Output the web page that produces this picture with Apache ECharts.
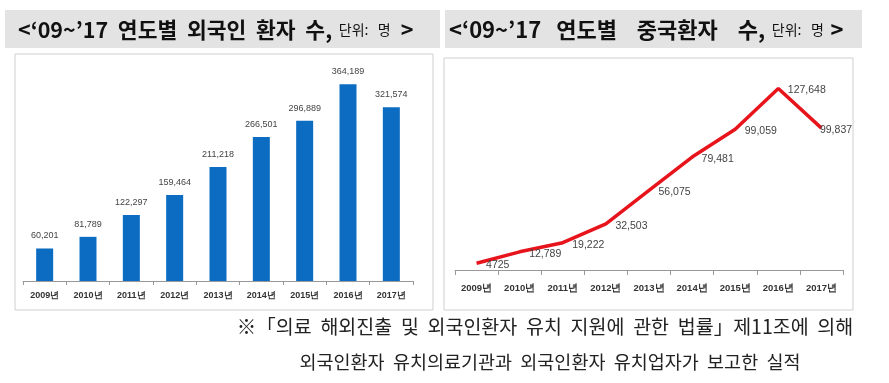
<!DOCTYPE html>
<html><head><meta charset="utf-8">
<script src="https://cdn.jsdelivr.net/npm/echarts@6/dist/echarts.min.js"></script>
<style>html,body{margin:0;padding:0;background:#fff}#c{width:889px;height:383px}</style>
</head><body><div id="c"></div>
<script>
const years = ['2009년','2010년','2011년','2012년','2013년','2014년','2015년','2016년','2017년'];
const foreignPatients = [60201, 81789, 122297, 159464, 211218, 266501, 296889, 364189, 321574];
const chinesePatients = [4725, 12789, 19222, 32503, 56075, 79481, 99059, 127648, 99837];
const leftTitle = '<‘09~’17  연도별  외국인  환자  수,';
const rightTitle = '<‘09~’17   연도별    중국환자    수,';
const unitText = '단위:   명';
const footer1 = '※「의료  해외진출  및  외국인환자  유치  지원에  관한  법률」제11조에  의해';
const footer2 = '외국인환자  유치의료기관과  외국인환자  유치업자가  보고한  실적';

const fmt = v => v >= 10000 ? v.toLocaleString('en-US') : String(v);
const chart = echarts.init(document.getElementById('c'));
const KR = '"Noto Sans CJK KR", "Noto Sans", sans-serif';
const AX = '"Liberation Sans", Arial, sans-serif';

chart.setOption({
  animation: false,
  backgroundColor: '#fff',
  graphic: [
    {type:'rect', shape:{x:5,y:10,width:435,height:38}, style:{fill:'#e3e3e3'}, z:-2},
    {type:'rect', shape:{x:445,y:10,width:417,height:38}, style:{fill:'#e3e3e3'}, z:-2},
    {type:'rect', shape:{x:15,y:54,width:418,height:256}, style:{fill:'#fff', stroke:'#cfcfcf', lineWidth:1}, z:-1},
    {type:'rect', shape:{x:444,y:58,width:409,height:252}, style:{fill:'#fff', stroke:'#cfcfcf', lineWidth:1}, z:-1},
    {type:'text', x:18, y:30, style:{text:'{a|'+leftTitle+'}  {b|'+unitText+'}   {a|>}', verticalAlign:'middle',
      rich:{a:{fontSize:21.5, fontFamily:KR, fill:'#111', fontWeight:'bold'}, b:{fontSize:14, fontFamily:KR, fill:'#111'}}}},
    {type:'text', x:449, y:30, style:{text:'{a|'+rightTitle+'}  {b|'+unitText+'}  {a|>}', verticalAlign:'middle',
      rich:{a:{fontSize:22, fontFamily:KR, fill:'#111', fontWeight:'bold'}, b:{fontSize:14, fontFamily:KR, fill:'#111'}}}},
    {type:'text', x:545, y:327, style:{text:footer1, align:'center', verticalAlign:'middle', fontSize:19.5, fontFamily:KR, fill:'#222'}},
    {type:'text', x:550, y:362, style:{text:footer2, align:'center', verticalAlign:'middle', fontSize:18.5, fontFamily:KR, fill:'#222'}}
  ],
  grid: [
    {left:23, width:390, top:65, height:216},
    {left:455, width:388, top:71, height:199}
  ],
  xAxis: [
    {type:'category', gridIndex:0, data:years,
      axisLine:{lineStyle:{color:'#999'}}, axisTick:{show:true, lineStyle:{color:'#999'}, length:4},
      axisLabel:{fontSize:9, color:'#333', fontFamily:AX, fontWeight:'bold', margin:10}},
    {type:'category', gridIndex:1, data:years,
      axisLine:{lineStyle:{color:'#999'}}, axisTick:{show:true, lineStyle:{color:'#999'}, length:5},
      axisLabel:{fontSize:9.5, color:'#333', fontFamily:AX, fontWeight:'bold', margin:13}}
  ],
  yAxis: [
    {type:'value', gridIndex:0, min:0, max:400000, show:false},
    {type:'value', gridIndex:1, min:0, max:140000, show:false}
  ],
  series: [
    {type:'bar', xAxisIndex:0, yAxisIndex:0, data:foreignPatients, barWidth:17,
      itemStyle:{color:'#0b6cc1'},
      label:{show:true, position:'top', distance:8, fontSize:9, fontFamily:AX, color:'#444', formatter:p=>fmt(p.value)}},
    {type:'line', xAxisIndex:1, yAxisIndex:1, showSymbol:true, symbol:'circle', symbolSize:1,
      itemStyle:{color:'rgba(0,0,0,0)'},
      data: chinesePatients.map((v,i)=> i===8 ? {value:v, label:{distance:-2}} : v),
      lineStyle:{color:'#e8141c', width:3.5},
      label:{show:true, position:'right', distance:9, offset:[0,2], fontSize:10.5, fontFamily:AX, color:'#444', formatter:p=>fmt(p.value)}}
  ]
});
</script></body></html>
